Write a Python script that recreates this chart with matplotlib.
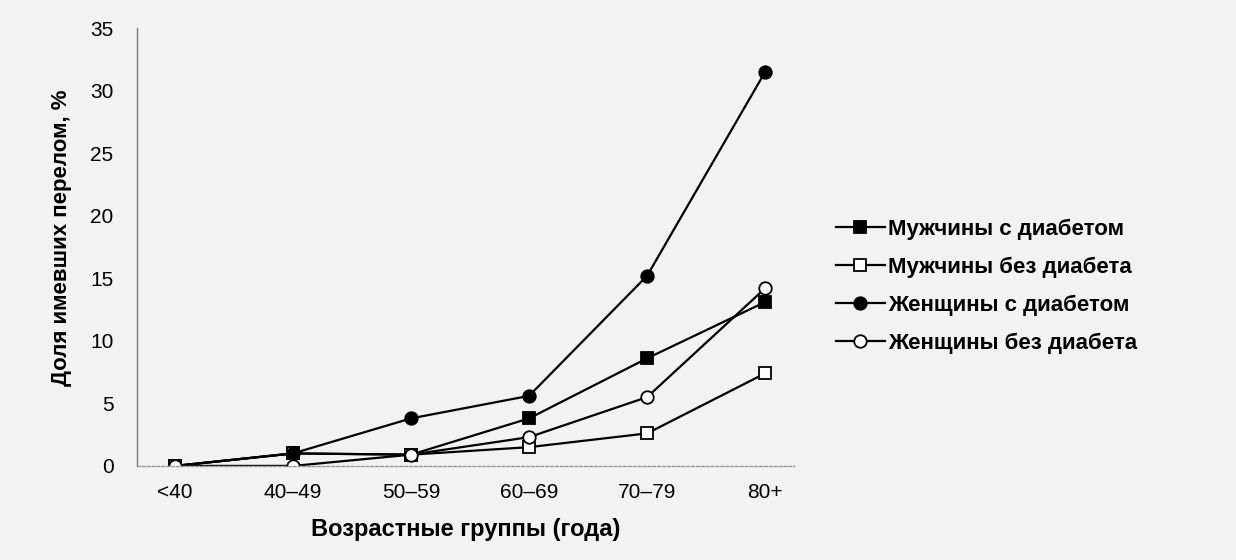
import matplotlib
matplotlib.use("Agg")
import matplotlib.pyplot as plt

categories = ["<40", "40–49", "50–59", "60–69", "70–79", "80+"]
men_diab = [0, 1.0, 0.9, 3.8, 8.6, 13.1]
men_nodiab = [0, 1.0, 0.9, 1.5, 2.6, 7.4]
women_diab = [0, 1.0, 3.8, 5.6, 15.2, 31.5]
women_nodiab = [0, 0, 0.9, 2.3, 5.5, 14.2]
series_labels = ["Мужчины с диабетом", "Мужчины без диабета",
                 "Женщины с диабетом", "Женщины без диабета"]
yticks = [0, 5, 10, 15, 20, 25, 30, 35]

plt.rcParams['font.family'] = ['Liberation Sans', 'DejaVu Sans']
bg = '#f2f2f2'
fig = plt.figure(figsize=(12.36, 5.6), dpi=100, facecolor=bg)
ax = fig.add_axes([0.111, 0.168, 0.531, 0.782], facecolor=bg)

x = list(range(len(categories)))
style = dict(color='black', lw=1.6, markersize=9, markeredgewidth=1.3, markeredgecolor='black')
ax.plot(x, men_diab, marker='s', markerfacecolor='black', label=series_labels[0], **style)
ax.plot(x, men_nodiab, marker='s', markerfacecolor='white', label=series_labels[1], **style)
ax.plot(x, women_diab, marker='o', markerfacecolor='black', label=series_labels[2], **style)
ax.plot(x, women_nodiab, marker='o', markerfacecolor='white', label=series_labels[3], **style)

ax.set_xlim(-0.32, 5.24)
ax.set_ylim(0, 35)
ax.set_xticks(x)
ax.set_xticklabels(categories)
ax.set_yticks(yticks)
ax.tick_params(length=0, labelsize=15, pad=12)
ax.tick_params(axis='y', pad=17)
for s in ['top', 'right']:
    ax.spines[s].set_visible(False)
ax.spines['left'].set_color('#777777')
ax.spines['left'].set_linewidth(1.0)
ax.spines['bottom'].set_color('#999999')
ax.spines['bottom'].set_linestyle((0, (2, 1.5)))
ax.spines['bottom'].set_linewidth(1.0)

ax.set_xlabel("Возрастные группы (года)", fontsize=17, fontweight='bold', labelpad=12)
ax.set_ylabel("Доля имевших перелом, %", fontsize=16, fontweight='bold')
ax.yaxis.set_label_coords(-0.1, 0.52)

leg = fig.legend(loc='upper left', bbox_to_anchor=(0.66, 0.645), frameon=False,
                 handlelength=2.2, handletextpad=0.15, labelspacing=0.75,
                 prop={'weight': 'bold', 'size': 16})

fig.savefig("out.png", dpi=100, facecolor=bg)
